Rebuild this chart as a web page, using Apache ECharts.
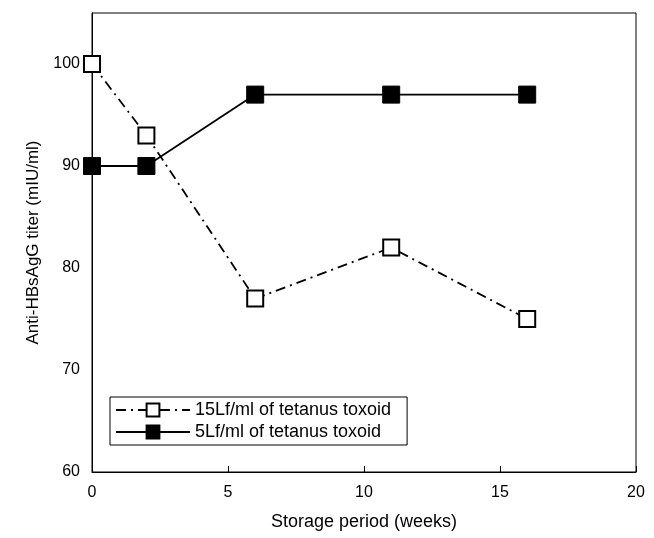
<!DOCTYPE html>
<html>
<head>
<meta charset="utf-8">
<script src="https://cdn.jsdelivr.net/npm/echarts@6/dist/echarts.min.js"></script>
<style>
  html, body { margin: 0; padding: 0; background: #fff; }
  #chart { width: 654px; height: 538px; }
</style>
</head>
<body>
<div id="chart"></div>
<script>
var weeks = [0, 2, 6, 11, 16];
var toxoid15 = [100, 93, 77, 82, 75];
var toxoid5 = [90, 90, 97, 97, 97];
var seriesNames = ['15Lf/ml of tetanus toxoid', '5Lf/ml of tetanus toxoid'];

function pairs(xs, ys) {
    return xs.map(function (x, i) { return [x, ys[i]]; });
}

var chart = echarts.init(document.getElementById('chart'));
var font = 'Liberation Sans, Arial, sans-serif';

var option = {
    animation: false,
    backgroundColor: '#fff',
    textStyle: { fontFamily: font, color: '#000' },
    grid: {
        left: 92, top: 13, right: 18, bottom: 66,
        show: true, borderColor: '#000', borderWidth: 1
    },
    legend: {
        orient: 'vertical',
        left: 110, top: 397,
        backgroundColor: '#fff',
        borderColor: '#000', borderWidth: 1,
        padding: [4, 16, 4, 5],
        itemGap: 4,
        itemWidth: 74, itemHeight: 16,
        textStyle: { fontSize: 18, fontFamily: font, color: '#000' },
        data: seriesNames
    },
    xAxis: {
        type: 'value',
        min: 0, max: 20, interval: 5,
        name: 'Storage period (weeks)',
        nameLocation: 'middle', nameGap: 41,
        nameTextStyle: { fontSize: 18, color: '#000' },
        axisLine: { lineStyle: { color: '#000' } },
        axisTick: { inside: true, length: 6, lineStyle: { color: '#000' } },
        axisLabel: { fontSize: 16, color: '#000', margin: 13 },
        splitLine: { show: false }
    },
    yAxis: {
        type: 'value',
        min: 60, max: 105, interval: 10,
        name: 'Anti-HBsAgG titer (mIU/ml)',
        nameLocation: 'middle', nameGap: 50,
        nameTextStyle: { fontSize: 17, color: '#000' },
        axisLine: { show: true, lineStyle: { color: '#000' } },
        axisTick: { show: false },
        axisLabel: {
            fontSize: 16, color: '#000', margin: 12,
            formatter: function (v) { return v > 100 ? '' : v; }
        },
        splitLine: { show: false }
    },
    series: [
        {
            name: seriesNames[0],
            type: 'line',
            data: pairs(weeks, toxoid15),
            symbol: 'rect', symbolSize: 16,
            itemStyle: { color: '#fff', borderColor: '#000', borderWidth: 2 },
            lineStyle: { color: '#000', width: 1.8, type: [10, 5, 2, 5] },
            z: 3
        },
        {
            name: seriesNames[1],
            type: 'line',
            data: pairs(weeks, toxoid5),
            symbol: 'rect', symbolSize: 17,
            itemStyle: { color: '#000', borderColor: '#000', borderWidth: 1 },
            lineStyle: { color: '#000', width: 1.8 },
            z: 2
        }
    ]
};
chart.setOption(option);
</script>
</body>
</html>
